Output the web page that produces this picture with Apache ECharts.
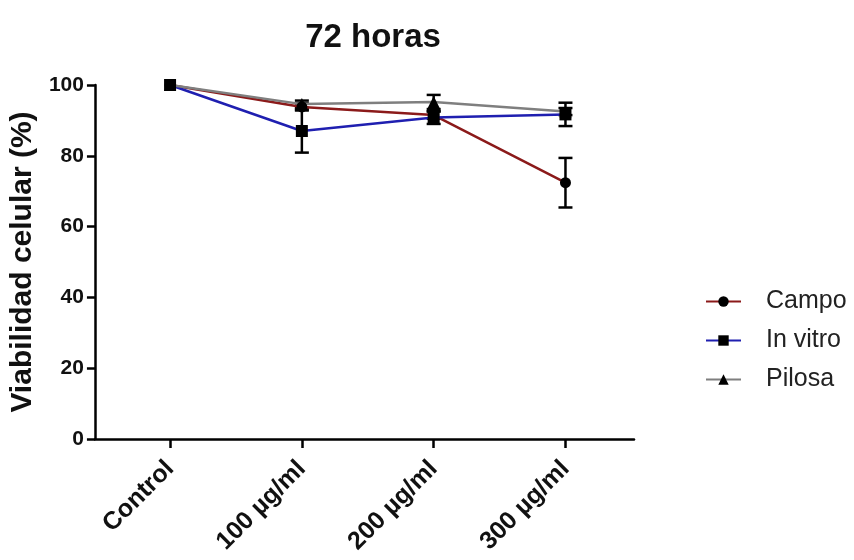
<!DOCTYPE html>
<html>
<head>
<meta charset="utf-8">
<script src="https://cdn.jsdelivr.net/npm/echarts@6/dist/echarts.min.js"></script>
<style>html,body{margin:0;padding:0;background:#fff;}#c{width:854px;height:560px;}</style>
</head>
<body>
<div id="c"></div>
<script>
var categories = ['Control', '100 µg/ml', '200 µg/ml', '300 µg/ml'];
var yTicks = [0, 20, 40, 60, 80, 100];
var campo = [100, 93.8, 91.5, 72.4];
var campoErr = [0, 1.0, 1.0, 7.0];
var invitro = [100, 87.0, 90.8, 91.7];
var invitroErr = [0, 6.1, 1.8, 3.3];
var pilosa = [100, 94.6, 95.2, 92.5];
var pilosaErr = [0, 1.0, 2.0, 1.0];

var FONT = '"Liberation Sans", Arial, sans-serif';

function pts(vals) { return vals.map(function (v, i) { return [i, v]; }); }
function errData(vals, errs) { return vals.map(function (v, i) { return [i, v - errs[i], v + errs[i]]; }); }

function errSeries(vals, errs) {
  return {
    type: 'custom',
    silent: true,
    z: 1,
    data: errData(vals, errs),
    encode: { x: 0, y: [1, 2] },
    renderItem: function (params, api) {
      var lo = api.coord([api.value(0), api.value(1)]);
      var hi = api.coord([api.value(0), api.value(2)]);
      if (Math.abs(hi[1] - lo[1]) < 1) return null;
      var w = 7;
      var st = { stroke: '#000', lineWidth: 2.5 };
      return {
        type: 'group',
        children: [
          { type: 'line', shape: { x1: lo[0], y1: lo[1], x2: hi[0], y2: hi[1] }, style: st },
          { type: 'line', shape: { x1: lo[0] - w, y1: lo[1], x2: lo[0] + w, y2: lo[1] }, style: st },
          { type: 'line', shape: { x1: hi[0] - w, y1: hi[1], x2: hi[0] + w, y2: hi[1] }, style: st }
        ]
      };
    }
  };
}

function lineSeries(name, vals, color, symbol, size) {
  return {
    name: name,
    type: 'line',
    data: pts(vals),
    z: 3,
    symbol: symbol,
    symbolSize: size,
    showAllSymbol: true,
    lineStyle: { color: color, width: 2.5 },
    itemStyle: { color: '#000' },
    emphasis: { disabled: true }
  };
}

var chart = echarts.init(document.getElementById('c'), null, { renderer: 'canvas' });
chart.setOption({
  animation: false,
  backgroundColor: '#fff',
  title: {
    text: '72 horas',
    left: 368,
    textAlign: 'center',
    top: 16,
    textStyle: { fontFamily: FONT, fontSize: 33, fontWeight: 'bold', color: '#111' }
  },
  legend: {
    orient: 'vertical',
    left: 700,
    top: 284,
    itemWidth: 35,
    itemHeight: 13,
    itemGap: 14,
    data: ['Campo', 'In vitro', 'Pilosa'],
    textStyle: { fontFamily: FONT, fontSize: 25, color: '#222', padding: [0, 0, 0, 20] }
  },
  grid: { left: 94, right: 220, top: 85, bottom: 121 },
  xAxis: {
    type: 'value',
    min: -0.57,
    max: 3.52,
    splitLine: { show: false },
    axisLine: { show: true, onZero: false, lineStyle: { color: '#000', width: 2.5 } },
    axisTick: { show: true, length: 9, customValues: [0, 1, 2, 3], lineStyle: { color: '#000', width: 2.5 } },
    axisLabel: {
      customValues: [0, 1, 2, 3],
      rotate: 45,
      margin: 26,
      fontFamily: FONT, fontSize: 25, fontWeight: 'bold', color: '#111',
      formatter: function (v) { return categories[Math.round(v)]; }
    }
  },
  yAxis: {
    type: 'value',
    min: 0,
    max: 100,
    interval: 20,
    name: 'Viabilidad celular (%)',
    nameLocation: 'middle',
    nameGap: 56,
    nameTextStyle: { fontFamily: FONT, fontSize: 30, fontWeight: 'bold', color: '#111' },
    splitLine: { show: false },
    axisLine: { show: true, onZero: false, lineStyle: { color: '#000', width: 2.5 } },
    axisTick: { show: true, length: 8, lineStyle: { color: '#000', width: 2.5 } },
    axisLabel: {
      margin: 11,
      fontFamily: FONT, fontSize: 21, fontWeight: 'bold', color: '#111',
      formatter: function (v) { return yTicks.indexOf(v) >= 0 ? String(v) : ''; }
    }
  },
  series: [
    errSeries(campo, campoErr),
    errSeries(invitro, invitroErr),
    errSeries(pilosa, pilosaErr),
    lineSeries('Campo', campo, '#8B1A1A', 'circle', 11),
    lineSeries('In vitro', invitro, '#1F1FB0', 'rect', 12),
    lineSeries('Pilosa', pilosa, '#7F7F7F', 'triangle', 12)
  ]
});
</script>
</body>
</html>
